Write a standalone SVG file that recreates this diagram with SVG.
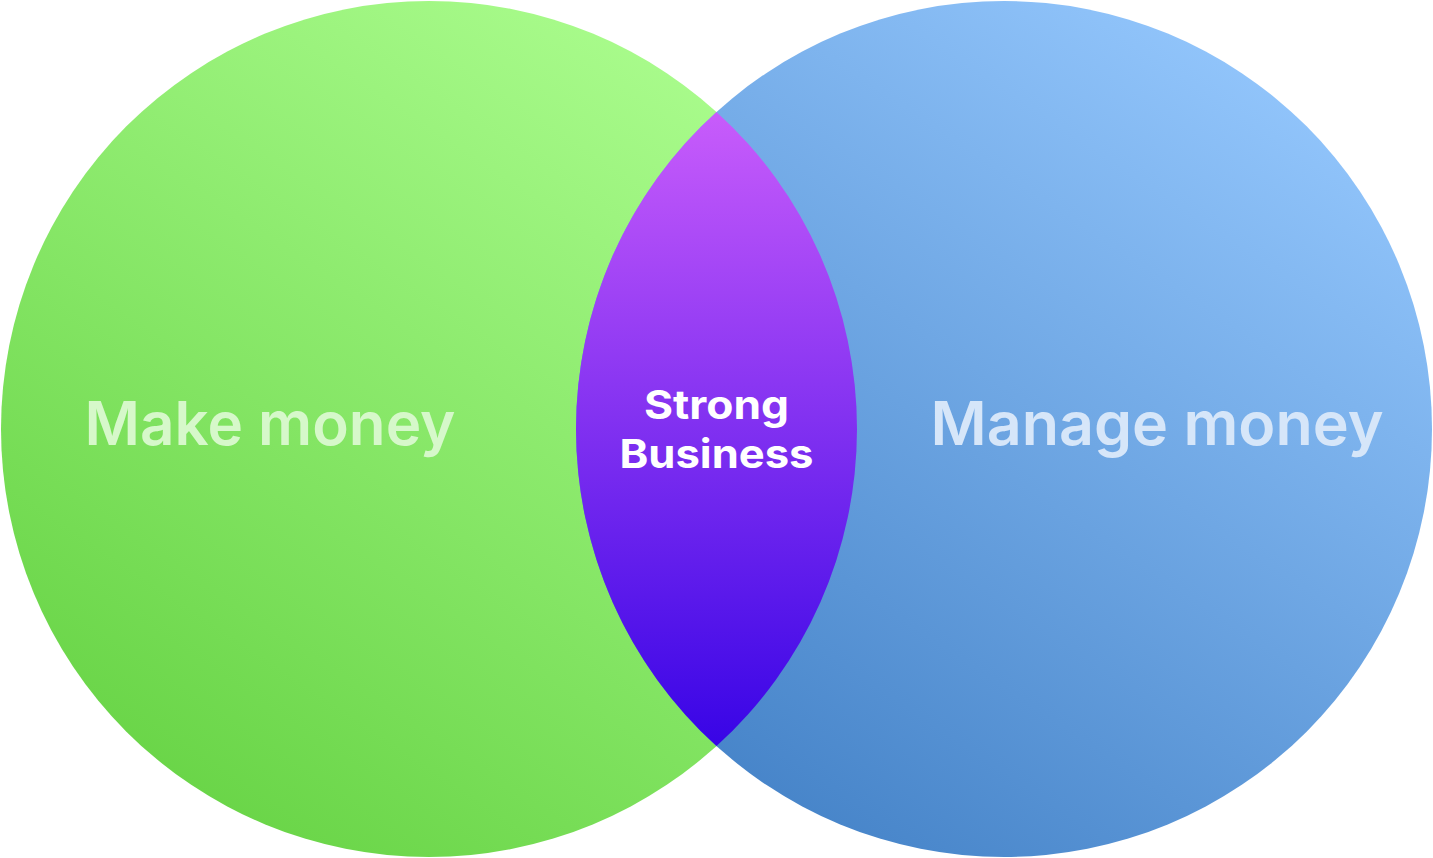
<svg xmlns="http://www.w3.org/2000/svg" width="1433" height="858" viewBox="0 0 1433 858">
  <style>
    .big { font-family: Inter, "Liberation Sans", sans-serif; font-weight: 600; font-size: 60px; text-anchor: middle; }
    .mid { font-family: Inter, "Liberation Sans", sans-serif; font-weight: 700; font-size: 40px; text-anchor: middle; fill: #ffffff; }
  </style>
  <defs>
    <linearGradient id="gGreen" x1="0.8" y1="0.05" x2="0.2" y2="0.95">
      <stop offset="0" stop-color="#aafc8d"/>
      <stop offset="1" stop-color="#68d446"/>
    </linearGradient>
    <linearGradient id="gBlue" x1="0.8" y1="0.05" x2="0.2" y2="0.95">
      <stop offset="0" stop-color="#93c6fc"/>
      <stop offset="1" stop-color="#4583c8"/>
    </linearGradient>
    <linearGradient id="gPurple" x1="0" y1="0" x2="0" y2="1">
      <stop offset="0" stop-color="#c85cfb"/>
      <stop offset="1" stop-color="#3804e6"/>
    </linearGradient>
  </defs>
  <rect width="1433" height="858" fill="#ffffff"/>
  <g id="make-money">
    <circle cx="429" cy="429" r="428" fill="url(#gGreen)"/>
  </g>
  <g id="manage-money">
    <circle cx="1004" cy="429" r="428" fill="url(#gBlue)"/>
  </g>
  <g id="strong-business">
    <path d="M716.5 111.94 A428 428 0 0 1 716.5 746.06 A428 428 0 0 1 716.5 111.94 Z" fill="url(#gPurple)"/>
  </g>
  <g id="labels">
    <text class="big" x="270" y="445" fill="#d6f8ca" textLength="371" lengthAdjust="spacingAndGlyphs">Make money</text>
    <text class="big" x="1157" y="445" fill="#d6e6f9" textLength="453" lengthAdjust="spacingAndGlyphs">Manage money</text>
    <text class="mid" x="716.5" y="419" textLength="145" lengthAdjust="spacingAndGlyphs">Strong</text>
    <text class="mid" x="716.5" y="468" textLength="194" lengthAdjust="spacingAndGlyphs">Business</text>
  </g>
  <g id="connectors"/>
</svg>
